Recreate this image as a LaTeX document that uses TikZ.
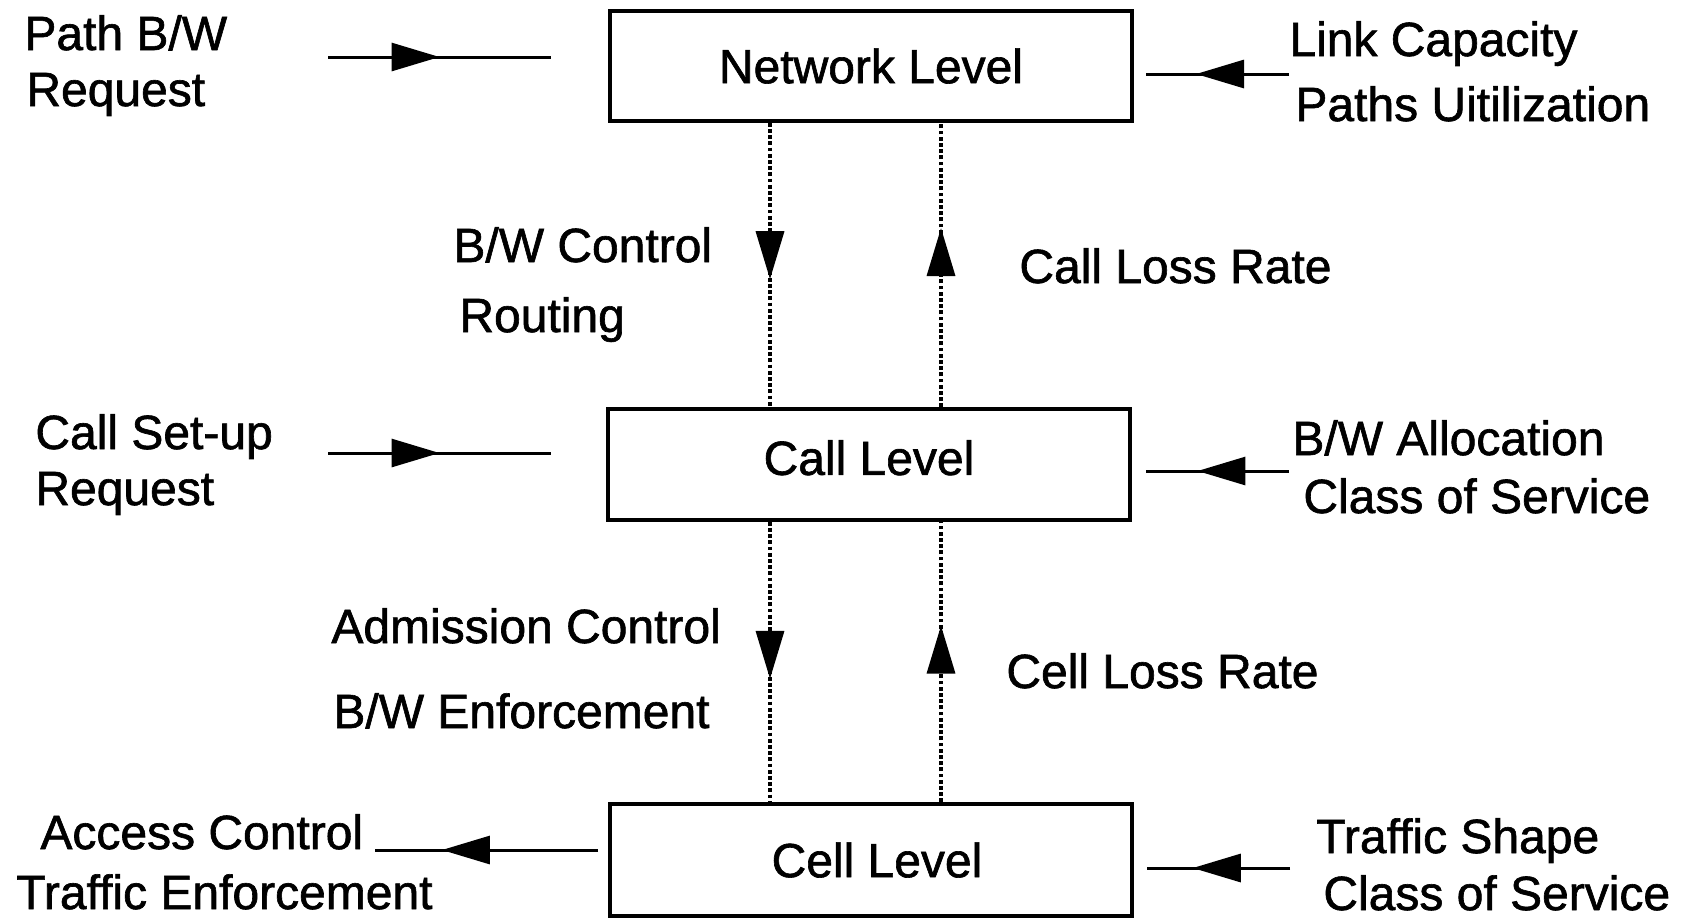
\documentclass[tikz,border=0pt]{standalone}
\usepackage{fontspec}
\setmainfont{Liberation Sans}[FakeBold=1.3]
\usetikzlibrary{arrows.meta,decorations.markings}

\tikzset{
  level/.style={draw, line width=1.75pt, inner sep=0pt, minimum width=261pt,
    font=\fontsize{24pt}{28pt}\selectfont},
  lbl/.style={anchor=base west, inner sep=0pt, font=\fontsize{24pt}{28pt}\selectfont},
  flow/.style={line width=1.5pt},
  feedback/.style={line width=1.7pt, dash pattern=on 1.9pt off 1.2pt},
  tipat/.style={postaction={decorate}, decoration={markings,
    mark=at position #1 with {\arrow{Triangle[length=24pt,width=14pt]}}}}
}

\begin{document}
\begin{tikzpicture}[x=0.5pt, y=-0.5pt]
\useasboundingbox (0,0) rectangle (1686,918);

% the three control levels
\node[level, minimum height=55pt]   (net)  at (871,66)    {Network Level};
\node[level, minimum height=55.5pt, text depth=7pt] (call) at (869,464.5) {Call Level};
\node[level, minimum height=56pt]   (cell) at (871,860)   {\hspace*{6pt}Cell Level};

% side labels
\node[lbl] (pbw1) at (24,50)    {Path B/W};
\node[lbl] (pbw2) at (26,106)   {Request};
\node[lbl] (lc1)  at (1289,56)  {Link Capacity};
\node[lbl] (lc2)  at (1295,121) {Paths Uitilization};

\node[lbl] (bwc1) at (453,262)  {B/W Control};
\node[lbl] (bwc2) at (459,332)  {Routing};
\node[lbl] (clr)  at (1019,283) {Call Loss Rate};

\node[lbl] (csu1) at (35,449)   {Call Set-up};
\node[lbl] (csu2) at (35,505)   {Request};
\node[lbl] (bwa1) at (1292,455) {B/W Allocation};
\node[lbl] (bwa2) at (1303,513) {Class of Service};

\node[lbl] (adm1) at (331,643)  {Admission Control};
\node[lbl] (adm2) at (333,728)  {B/W Enforcement};
\node[lbl] (celr) at (1006,688) {Cell Loss Rate};

\node[lbl] (acc1) at (40,849)   {Access Control};
\node[lbl] (acc2) at (16,909)   {Traffic Enforcement};
\node[lbl] (ts1)  at (1316,853) {Traffic Shape};
\node[lbl] (ts2)  at (1323,910) {Class of Service};

% end points of the horizontal inputs and outputs
\coordinate (in1a) at (328,57);   \coordinate (in1b) at (551,57);
\coordinate (r1a)  at (1289,74);  \coordinate (r1b)  at (1146,74);
\coordinate (in2a) at (328,453);  \coordinate (in2b) at (551,453);
\coordinate (r2a)  at (1289,471); \coordinate (r2b)  at (1146,471);
\coordinate (outa) at (598,850);  \coordinate (outb) at (375,850);
\coordinate (r3a)  at (1290,868); \coordinate (r3b)  at (1147,868);

\draw[flow, tipat=0.5]  (in1a) -- (in1b);
\draw[flow, tipat=0.65] (r1a) -- (r1b);
\draw[flow, tipat=0.5]  (in2a) -- (in2b);
\draw[flow, tipat=0.64] (r2a) -- (r2b);
\draw[flow, tipat=0.7]  (outa) -- (outb);
\draw[flow, tipat=0.68] (r3a) -- (r3b);

% vertical control and feedback paths between the levels
\coordinate (down) at (770,0);
\coordinate (up)   at (941,0);
\draw[feedback, tipat=0.55] (down |- net.south)  -- (down |- call.north);
\draw[feedback, tipat=0.63] (up |- call.north)   -- (up |- net.south);
\draw[feedback, tipat=0.56] (down |- call.south) -- (down |- cell.north);
\draw[feedback, tipat=0.63] (up |- cell.north)   -- (up |- call.south);
\end{tikzpicture}
\end{document}
